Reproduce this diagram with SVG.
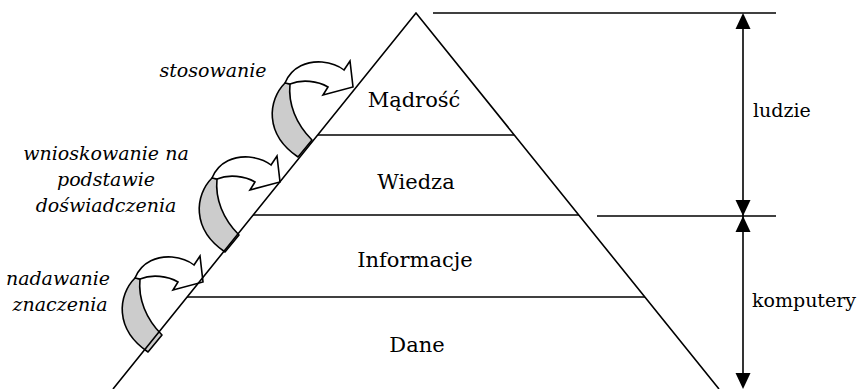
<svg xmlns="http://www.w3.org/2000/svg" width="861" height="389" viewBox="0 0 861 389">
<style>
.ln{stroke:#000;stroke-width:1.6;fill:none}
text{font-family:'DejaVu Serif','Liberation Serif',serif;fill:#000}
.lay{font-size:21px;text-anchor:middle}
.dim{font-size:19px}
.it{font-size:19px;font-style:italic;text-anchor:middle}
.band{fill:#cccccc;stroke:#000;stroke-width:1.6;stroke-linejoin:round}
.shaft{fill:#fff;stroke:#000;stroke-width:1.6;stroke-linejoin:miter}
.ah{fill:#000}
</style>
<defs>
<g id="curvedArrow">
<path class="band" d="M285,83 C268,100 264,134 298,157 L312,140 C296,124 288,104 290,84 Z"/>
<path class="shaft" d="M285,83 C292,66 308,61 322,62 C332,63 339,66 344,70 L350,61 L353,87 L323,95 L328,87 C318,81 302,79 290,84 Z"/>
</g>
</defs>
<rect width="861" height="389" fill="#fff"/>
<g id="steps">
<use href="#curvedArrow"/>
<use href="#curvedArrow" transform="translate(-73,95)"/>
<use href="#curvedArrow" transform="translate(-150,195)"/>
</g>
<g id="pyramid">
<path class="ln" d="M113,389 L416,13 L719,389"/>
</g>
<g id="madrosc">
<line class="ln" x1="318" y1="135" x2="514" y2="135"/>
<text class="lay" x="414" y="107">Mądrość</text>
</g>
<g id="wiedza">
<line class="ln" x1="253" y1="215" x2="579" y2="215"/>
<text class="lay" x="416" y="189">Wiedza</text>
</g>
<g id="informacje">
<line class="ln" x1="187" y1="297" x2="645" y2="297"/>
<text class="lay" x="415" y="267">Informacje</text>
</g>
<g id="dane">
<text class="lay" x="417" y="352">Dane</text>
</g>
<g id="labels">
<text class="it" x="213" y="77">stosowanie</text>
<text class="it" x="106" y="160">wnioskowanie na</text>
<text class="it" x="106" y="186">podstawie</text>
<text class="it" x="106" y="212">doświadczenia</text>
<text class="it" x="58" y="285">nadawanie</text>
<text class="it" x="60" y="311">znaczenia</text>
</g>
<g id="connectors">
<line class="ln" x1="433" y1="13" x2="776" y2="13"/>
<line class="ln" x1="597" y1="216" x2="776" y2="216"/>
<line class="ln" x1="743" y1="20" x2="743" y2="382"/>
<polygon class="ah" points="743,13 735.5,29 750.5,29"/>
<polygon class="ah" points="743,216 735.5,200 750.5,200"/>
<polygon class="ah" points="743,216 735.5,232 750.5,232"/>
<polygon class="ah" points="743,389 735.5,373 750.5,373"/>
<text class="dim" x="753" y="117">ludzie</text>
<text class="dim" x="752" y="307">komputery</text>
</g>
</svg>
